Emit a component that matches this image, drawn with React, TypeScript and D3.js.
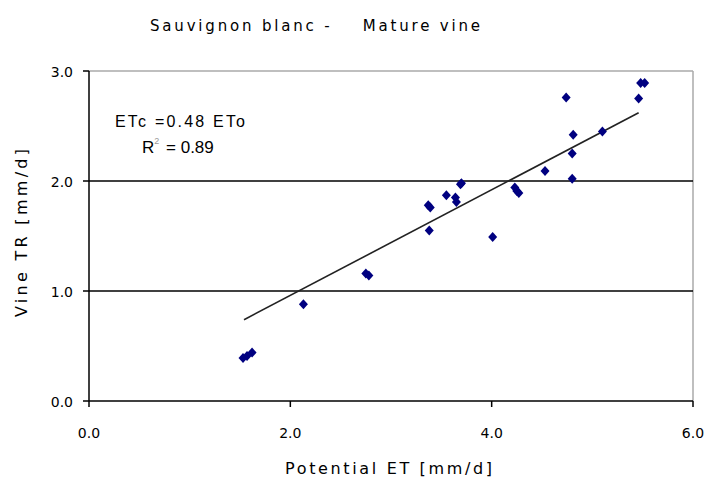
import React from "react";
import * as d3 from "d3";

const potentialET = [1.53, 1.57, 1.62, 2.13, 2.75, 2.78, 3.37, 3.39, 3.38, 3.55, 3.64, 3.65, 3.69, 3.70, 4.01, 4.23, 4.25, 4.27, 4.53, 4.74, 4.81, 4.80, 4.80, 5.10, 5.46, 5.48, 5.52];
const vineTR = [0.39, 0.41, 0.44, 0.88, 1.16, 1.14, 1.78, 1.76, 1.55, 1.87, 1.85, 1.81, 1.97, 1.98, 1.49, 1.94, 1.91, 1.89, 2.09, 2.76, 2.42, 2.25, 2.02, 2.45, 2.75, 2.89, 2.89];
const xTicks = [0, 2, 4, 6];
const yTicks = [0, 1, 2, 3];
const gridValues = [1, 2];
const slope = 0.48;
const trendRange = [1.54, 5.46];

const W = 709, H = 481;
const M = { left: 89, right: 693, top: 71, bottom: 401 };

export default function App() {
  const x = d3.scaleLinear().domain([0, 6]).range([M.left, M.right]);
  const y = d3.scaleLinear().domain([0, 3]).range([M.bottom, M.top]);
  const font = "'DejaVu Sans', sans-serif";
  const arial = "'Liberation Sans', Arial, sans-serif";
  const diamond = (cx: number, cy: number) =>
    `M${cx},${cy - 5}L${cx + 4.5},${cy}L${cx},${cy + 5}L${cx - 4.5},${cy}Z`;
  const line = d3.line<number>().x((d) => x(d)).y((d) => y(slope * d));
  return (
    <svg width={W} height={H} style={{ position: "absolute", left: 0, top: 0, background: "#fff" }}>
      <text x={150} y={31} fontFamily={font} fontSize={15} fill="#000" textLength={330} xmlSpace="preserve">
        {"Sauvignon blanc -    Mature vine"}
      </text>
      {/* frame */}
      <line x1={M.left} x2={M.right} y1={M.top} y2={M.top} stroke="#aaa" strokeWidth={1.5} />
      <line x1={M.right} x2={M.right} y1={M.top} y2={M.bottom} stroke="#aaa" strokeWidth={1.5} />
      {gridValues.map((g) => (
        <line key={g} x1={M.left} x2={M.right} y1={y(g)} y2={y(g)} stroke="#000" strokeWidth={1.5} />
      ))}
      <line x1={M.left} x2={M.left} y1={M.top} y2={M.bottom} stroke="#000" strokeWidth={1.5} />
      <line x1={M.left} x2={M.right} y1={M.bottom} y2={M.bottom} stroke="#000" strokeWidth={1.5} />
      {yTicks.map((t) => (
        <g key={"y" + t}>
          <line x1={M.left - 6} x2={M.left} y1={y(t)} y2={y(t)} stroke="#000" strokeWidth={1.5} />
          <text x={M.left - 16} y={y(t) + 6} textAnchor="end" fontFamily={font} fontSize={14}>
            {t.toFixed(1)}
          </text>
        </g>
      ))}
      {xTicks.map((t) => (
        <g key={"x" + t}>
          <line x1={x(t)} x2={x(t)} y1={M.bottom} y2={M.bottom + 6} stroke="#000" strokeWidth={1.5} />
          <text x={x(t)} y={M.bottom + 37} textAnchor="middle" fontFamily={font} fontSize={14}>
            {t.toFixed(1)}
          </text>
        </g>
      ))}
      <text x={285} y={474} fontFamily={font} fontSize={16} textLength={207}>
        Potential ET [mm/d]
      </text>
      <text transform={`translate(27,${317}) rotate(-90)`} fontFamily={font} fontSize={16} textLength={168}>
        Vine TR [mm/d]
      </text>
      <path d={line(trendRange) || ""} fill="none" stroke="#222" strokeWidth={1.6} />
      {potentialET.map((v, i) => (
        <path key={i} d={diamond(x(v), y(vineTR[i]))} fill="#000080" />
      ))}
      <text x={115} y={127} fontFamily={arial} fontSize={16} textLength={130}>
        ETc =0.48 ETo
      </text>
      <text x={142} y={153} fontFamily={arial} fontSize={17}>
        R
        <tspan fontSize={9} dy={-9} fill="#999">2</tspan>
        <tspan dy={9} dx={2}>{" = 0.89"}</tspan>
      </text>
    </svg>
  );
}
